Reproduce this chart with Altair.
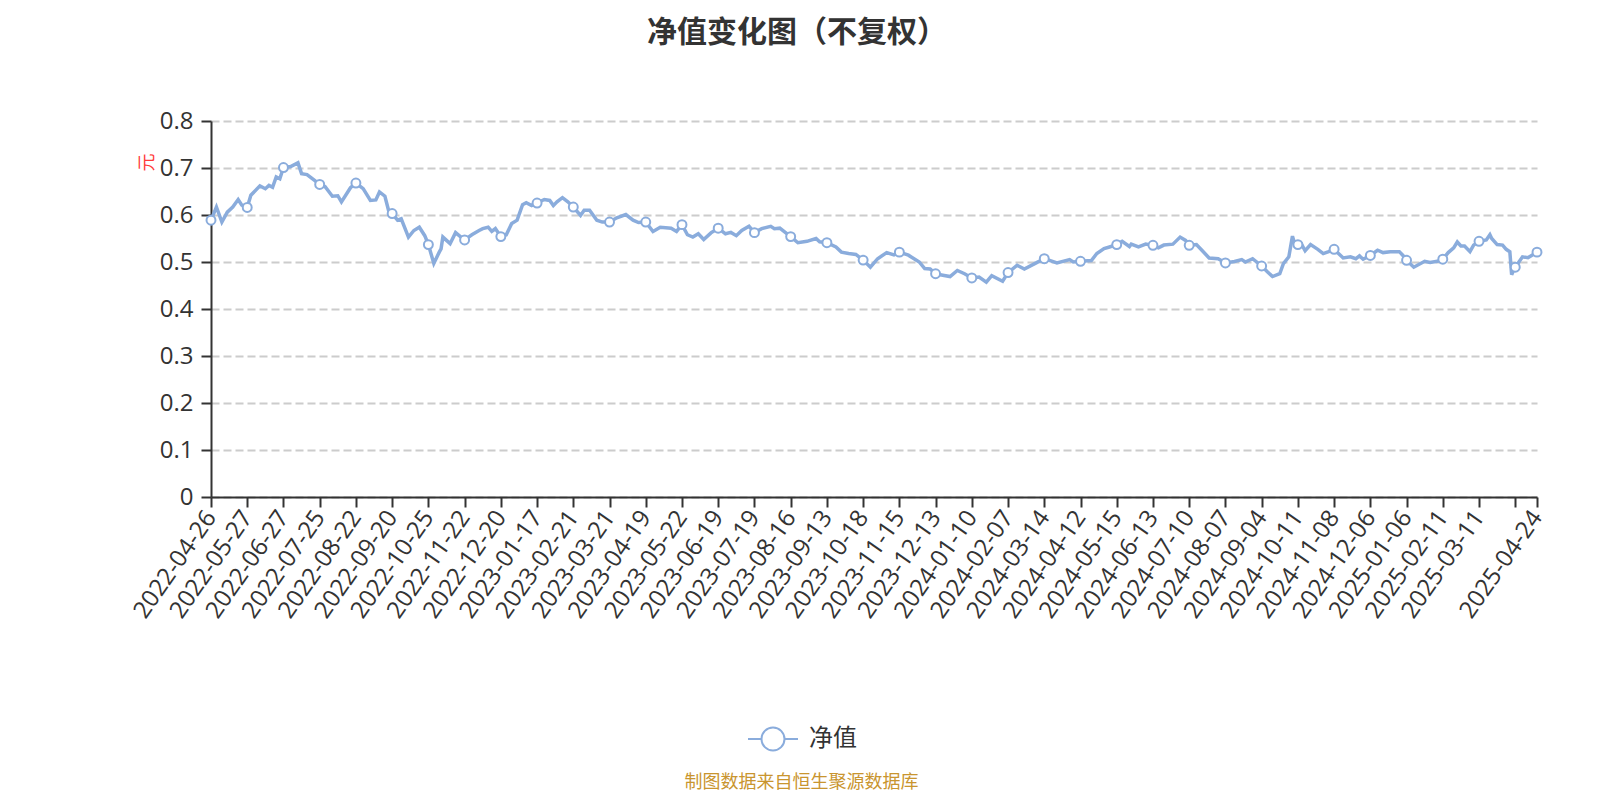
import altair as alt
import pandas as pd

# trading-day index (category position) and net value
idx = [0, 3, 6, 9, 12, 15, 17, 20, 22, 27, 30, 32, 34, 36, 38, 40, 44, 48, 50, 53,
       57, 60, 63, 67, 70, 72, 77, 80, 84, 88, 91, 93, 96, 98, 100, 103, 105, 106, 109, 112,
       115, 118, 120, 123, 126, 127, 128, 132, 135, 138, 140, 144, 148, 150, 153, 155, 157, 160, 163, 166,
       169, 172, 174, 177, 180, 184, 187, 189, 191, 194, 197, 200, 204, 206, 209, 213, 216, 220, 224, 229,
       233, 236, 240, 244, 248, 254, 257, 260, 263, 266, 269, 272, 276, 280, 284, 287, 290, 293, 297, 300,
       304, 309, 311, 314, 317, 320, 324, 329, 334, 336, 340, 345, 348, 352, 356, 360, 364, 368, 373, 377,
       380, 385, 391, 394, 397, 400, 404, 408, 412, 416, 420, 424, 428, 431, 437, 440, 445, 449, 455, 460,
       467, 474, 476, 480, 486, 489, 493, 496, 500, 503, 507, 508, 512, 516, 520, 523, 526, 531, 535, 538,
       540, 544, 547, 551, 556, 560, 565, 569, 571, 575, 580, 583, 586, 590, 592, 595, 597, 598, 600, 602,
       604, 607, 611, 614, 617, 620, 625, 629, 632, 634, 636, 640, 644, 647, 651, 656, 658, 660, 664, 670,
       673, 677, 680, 683, 686, 688, 690, 692, 695, 697, 700, 704, 706, 707, 710, 713, 715, 717, 718, 719,
       720, 724, 727, 729, 732]
nav = [0.589, 0.617, 0.585, 0.606, 0.617, 0.633, 0.621, 0.616, 0.642, 0.662, 0.656, 0.663, 0.659, 0.681, 0.677, 0.701, 0.703, 0.711, 0.688, 0.686,
       0.674, 0.665, 0.660, 0.640, 0.641, 0.628, 0.658, 0.668, 0.656, 0.631, 0.632, 0.649, 0.640, 0.610, 0.603, 0.589, 0.592, 0.582, 0.553, 0.567,
       0.574, 0.556, 0.537, 0.497, 0.521, 0.528, 0.553, 0.539, 0.5625, 0.553, 0.547, 0.558, 0.567, 0.571, 0.574, 0.565, 0.571, 0.554, 0.558, 0.582,
       0.589, 0.622, 0.626, 0.620, 0.6255, 0.633, 0.631, 0.620, 0.628, 0.637, 0.628, 0.617, 0.599, 0.610, 0.610, 0.589, 0.585, 0.585, 0.594, 0.601,
       0.589, 0.584, 0.585, 0.565, 0.574, 0.572, 0.565, 0.5795, 0.558, 0.553, 0.560, 0.548, 0.562, 0.572, 0.560, 0.563, 0.556, 0.567, 0.576, 0.5625,
       0.571, 0.576, 0.571, 0.572, 0.563, 0.554, 0.541, 0.544, 0.550, 0.543, 0.541, 0.532, 0.521, 0.518, 0.516, 0.504, 0.489, 0.507, 0.520, 0.515,
       0.521, 0.5145, 0.500, 0.486, 0.485, 0.475, 0.472, 0.469, 0.482, 0.475, 0.466, 0.468, 0.457, 0.471, 0.459, 0.4775, 0.493, 0.485, 0.497, 0.507,
       0.498, 0.505, 0.500, 0.5015, 0.503, 0.518, 0.5285, 0.532, 0.537, 0.544, 0.533, 0.538, 0.532, 0.538, 0.5355, 0.530, 0.536, 0.538, 0.553, 0.546,
       0.5355, 0.537, 0.525, 0.5085, 0.507, 0.498, 0.501, 0.505, 0.500, 0.507, 0.4915, 0.480, 0.469, 0.475, 0.4965, 0.511, 0.555, 0.542, 0.537, 0.538,
       0.524, 0.537, 0.527, 0.518, 0.522, 0.527, 0.5085, 0.511, 0.507, 0.513, 0.506, 0.514, 0.525, 0.520, 0.522, 0.522, 0.514, 0.5036, 0.489, 0.5015,
       0.499, 0.5015, 0.506, 0.520, 0.530, 0.5425, 0.534, 0.534, 0.522, 0.536, 0.544, 0.547, 0.558, 0.550, 0.537, 0.536, 0.527, 0.522, 0.473, 0.482,
       0.489, 0.511, 0.509, 0.514, 0.521]

tick_dates = ["2022-04-26", "2022-05-27", "2022-06-27", "2022-07-25", "2022-08-22", "2022-09-20",
              "2022-10-25", "2022-11-22", "2022-12-20", "2023-01-17", "2023-02-21", "2023-03-21",
              "2023-04-19", "2023-05-22", "2023-06-19", "2023-07-19", "2023-08-16", "2023-09-13",
              "2023-10-18", "2023-11-15", "2023-12-13", "2024-01-10", "2024-02-07", "2024-03-14",
              "2024-04-12", "2024-05-15", "2024-06-13", "2024-07-10", "2024-08-07", "2024-09-04",
              "2024-10-11", "2024-11-08", "2024-12-06", "2025-01-06", "2025-02-11", "2025-03-11"]
last_idx = 732
last_date = "2025-04-24"
y_ticks = [0, 0.1, 0.2, 0.3, 0.4, 0.5, 0.6, 0.7, 0.8]
series_name = "净值"

FONT = "Open Sans, Noto Sans CJK SC, sans-serif"
LINE = "#8aacdc"

df = pd.DataFrame({"idx": idx, "nav": nav, "series": [series_name] * len(idx)})
tick_idx = [i * 20 for i in range(37)] + [last_idx]
arr = "[" + ",".join("'" + d + "'" for d in tick_dates) + "]"
label_expr = (f"datum.value == {last_idx} ? '{last_date}' : "
              f"(datum.value < 720 ? {arr}[round(datum.value / 20)] : '')")

sym = ("M-1,0L-0.46,0M0.46,0L1,0M0.46,0A0.46,0.46,0,1,1,-0.46,0"
       "A0.46,0.46,0,1,1,0.46,0Z")

x_enc = alt.X("idx:Q",
              scale=alt.Scale(domain=[0, last_idx], nice=False, zero=False),
              axis=alt.Axis(values=tick_idx, tickCount=100, labelExpr=label_expr, labelAngle=305,
                            labelAlign="right", labelBaseline="middle", labelPadding=6,
                            labelOverlap=False, grid=False,
                            title="制图数据来自恒生聚源数据库", titleColor="#c9952f",
                            titleFontSize=18, titleFontWeight="normal", titleFont=FONT,
                            titleX=590, titleY=290, titleAlign="center",
                            titleBaseline="alphabetic", titleAngle=0))
y_enc = alt.Y("nav:Q",
              scale=alt.Scale(domain=[0, 0.8], nice=False),
              axis=alt.Axis(values=y_ticks, format=".1~f", grid=True,
                            gridDash=[8, 4], gridColor="#cccccc", gridWidth=2,
                            labelPadding=8,
                            title="元", titleColor="#ff3b3b", titleFontSize=18,
                            titleFontWeight="normal", titleFont=FONT,
                            titleX=-64, titleY=41, titleAngle=270,
                            titleAlign="center", titleBaseline="middle"))

line = alt.Chart(df).mark_line(strokeWidth=3.5, interpolate="linear").encode(
    x=x_enc, y=y_enc,
    color=alt.Color("series:N",
                    scale=alt.Scale(range=[LINE]),
                    legend=alt.Legend(title=None, orient="none", legendX=536, legendY=592,
                                      symbolType=sym, symbolSize=2500, symbolStrokeWidth=2,
                                      symbolFillColor="white", symbolStrokeColor=LINE,
                                      labelFontSize=24, labelColor="#333333", labelFont=FONT,
                                      labelOffset=10)),
)

points = alt.Chart(df).transform_filter(
    f"datum.idx % 20 == 0 || datum.idx == {last_idx}"
).mark_point(shape="circle", filled=True, fill="white", stroke=LINE,
             strokeWidth=2, size=80, opacity=1).encode(x="idx:Q", y="nav:Q")

chart = alt.layer(line, points).properties(
    width=1326, height=376,
    autosize=alt.AutoSizeParams(type="none"),
    padding={"left": 203, "top": 113, "right": 50, "bottom": 295},
    title=alt.TitleParams("净值变化图（不复权）", fontSize=30, fontWeight="bold",
                          color="#333333", font=FONT, anchor="middle", frame="group",
                          dx=-77, offset=61),
).configure_view(stroke=None).configure_axis(
    domainColor="#333333", domainWidth=2, tickColor="#333333", tickWidth=2, tickSize=10,
    labelColor="#333333", labelFontSize=24, labelFont=FONT,
)

chart.save("out.html", embed_options={"renderer": "svg", "actions": False})
